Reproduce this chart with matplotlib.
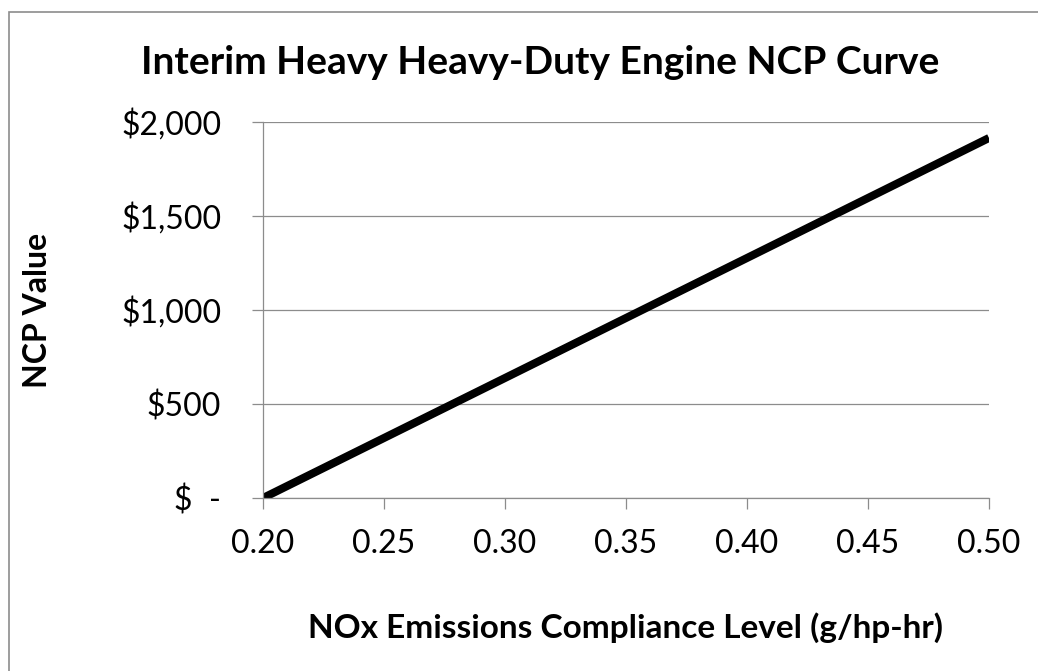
import matplotlib.pyplot as plt
from matplotlib.patches import Rectangle

# NCP curve: compliance level vs NCP value
nox_level = [0.20, 0.50]
ncp_value = [0, 1915]
x_ticks = [0.20, 0.25, 0.30, 0.35, 0.40, 0.45, 0.50]
y_ticks = [0, 500, 1000, 1500, 2000]
y_tick_labels = ["$  -", "$500", "$1,000", "$1,500", "$2,000"]

plt.rcParams["font.family"] = ["Lato", "DejaVu Sans"]

W, H = 1038, 671
fig = plt.figure(figsize=(W / 100, H / 100), dpi=100)

# axes box in pixels
left, right, top, bottom = 263, 989, 122, 498
ax = fig.add_axes([left / W, 1 - bottom / H, (right - left) / W, (bottom - top) / H])

ax.plot(nox_level, ncp_value, color="black", linewidth=5.8, solid_capstyle="butt")

ax.set_xlim(0.20, 0.50)
ax.set_ylim(0, 2000)
ax.set_xticks(x_ticks)
ax.set_xticklabels([f"{v:.2f}" for v in x_ticks])
ax.set_yticks(y_ticks)
ax.set_yticklabels(y_tick_labels)
ax.grid(axis="y", color="#8c8c8c", linewidth=0.9)
ax.set_axisbelow(True)

for s in ["top", "right"]:
    ax.spines[s].set_visible(False)
for s in ["left", "bottom"]:
    ax.spines[s].set_color("#8c8c8c")
    ax.spines[s].set_linewidth(0.9)

ax.tick_params(axis="both", colors="#8c8c8c", labelcolor="black", labelsize=23,
               length=8, width=0.9)
ax.tick_params(axis="x", pad=14)
ax.tick_params(axis="y", pad=22)

fig.text(540 / W, 1 - 62 / H, "Interim Heavy Heavy-Duty Engine NCP Curve",
         ha="center", va="center", fontsize=28, fontweight="bold")
fig.text(626 / W, 1 - 628 / H, "NOx Emissions Compliance Level (g/hp-hr)",
         ha="center", va="center", fontsize=24, fontweight="bold")
fig.text(38 / W, 1 - 310 / H, "NCP Value", rotation=90,
         ha="center", va="center", fontsize=23, fontweight="bold")

# chart area border
fig.patches.append(Rectangle((9 / W, -0.05), 1.1, 1 - 12 / H + 0.05,
                             transform=fig.transFigure, fill=False,
                             edgecolor="#8c8c8c", linewidth=1.2))

plt.savefig("out.png", dpi=100)
plt.close()
